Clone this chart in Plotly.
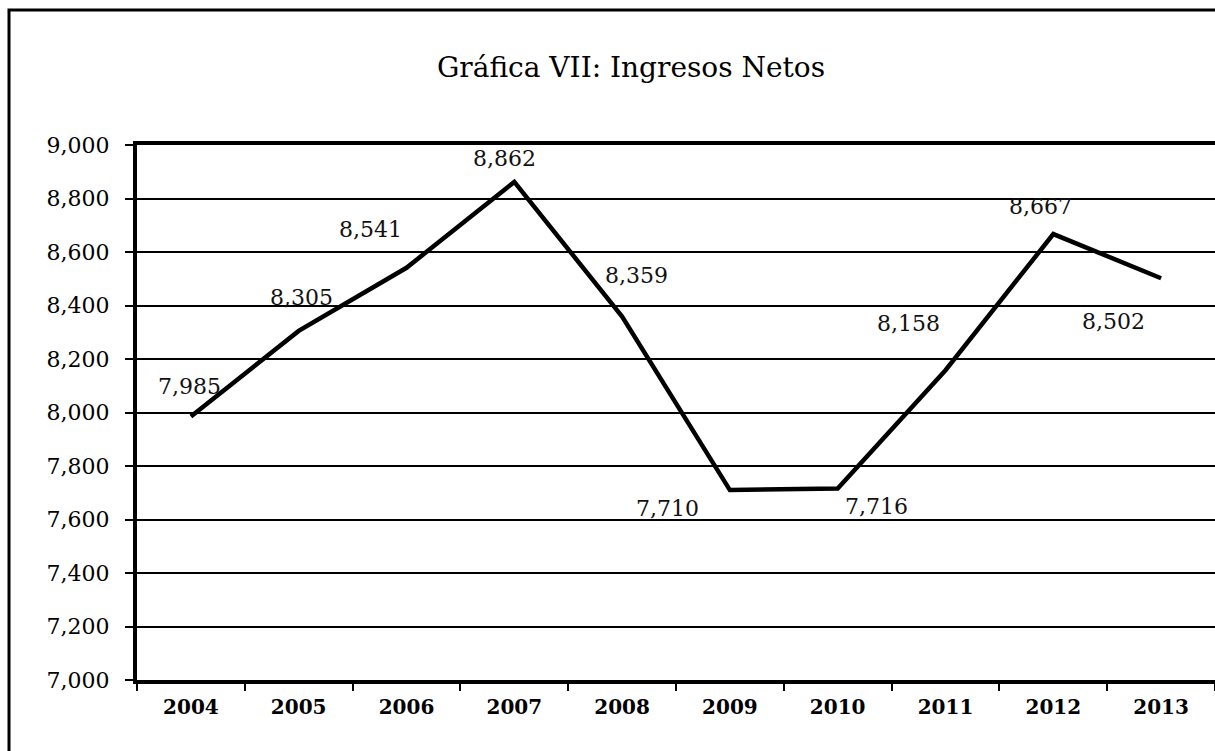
import plotly.graph_objects as go

years = ["2004", "2005", "2006", "2007", "2008", "2009", "2010", "2011", "2012", "2013"]
ingresos = [7985, 8305, 8541, 8862, 8359, 7710, 7716, 8158, 8667, 8502]
labels = ["7,985", "8,305", "8,541", "8,862", "8,359", "7,710", "7,716", "8,158", "8,667", "8,502"]
y_ticks = [7000, 7200, 7400, 7600, 7800, 8000, 8200, 8400, 8600, 8800, 9000]

# label offsets in pixels (style only)
label_dx = [-1, 3, -36, -10, 14, -62, 39, -37, -13, -48]
label_dy = [30, 33, 38, 23, 41, -18, -18, 47, 28, -43]

W, H = 1215, 751
ML, MR, MT, MB = 137, 0, 145, 71

fig = go.Figure()
fig.add_trace(go.Scatter(
    x=years, y=ingresos, mode="lines",
    line=dict(color="black", width=4.5),
    showlegend=False, hoverinfo="skip",
))

for i, (v, t, dx, dy) in enumerate(zip(ingresos, labels, label_dx, label_dy)):
    fig.add_annotation(x=i, y=v, text=t, showarrow=False,
                       xshift=dx, yshift=dy,
                       font=dict(family="DejaVu Serif", size=22, color="#111111"))

pw = W - ML - MR
ph = H - MT - MB
# outer chart border (partly off-canvas like the reference)
fig.add_shape(type="rect", xref="paper", yref="paper",
              x0=(9 - ML) / pw, x1=1.05,
              y0=-0.3, y1=(H - MB - 10) / ph,
              line=dict(color="black", width=3), fillcolor="rgba(0,0,0,0)", layer="above")

fig.update_layout(
    width=W, height=H,
    margin=dict(l=ML, r=MR, t=MT, b=MB),
    paper_bgcolor="white", plot_bgcolor="white",
    title=dict(text="Gráfica VII: Ingresos Netos",
               font=dict(family="DejaVu Serif", size=28, color="black"),
               x=631 / W, xanchor="center", xref="container",
               y=1 - 67 / H, yanchor="middle", yref="container"),
    xaxis=dict(
        type="category", range=[-0.5, 9.5], autorange=False,
        tickson="boundaries", ticks="outside", ticklen=7,
        tickwidth=2, tickcolor="black",
        showline=True, linecolor="black", linewidth=4, mirror=True,
        showgrid=False,
        tickfont=dict(family="DejaVu Serif", size=20, color="black", weight="bold"),
        ticklabelstandoff=6,
    ),
    yaxis=dict(
        range=[7000, 9000], autorange=False, tickvals=y_ticks, tickformat=",d",
        ticks="outside", ticklen=8, tickwidth=2, tickcolor="black",
        showline=True, linecolor="black", linewidth=4,
        showgrid=True, gridcolor="black", gridwidth=1.5,
        zeroline=False,
        tickfont=dict(family="DejaVu Serif", size=22, color="black"),
        ticklabelstandoff=11,
    ),
)

fig.write_html("out.html", config={"displayModeBar": False},
               post_script="document.body.style.margin='0';document.body.style.overflow='hidden';")
